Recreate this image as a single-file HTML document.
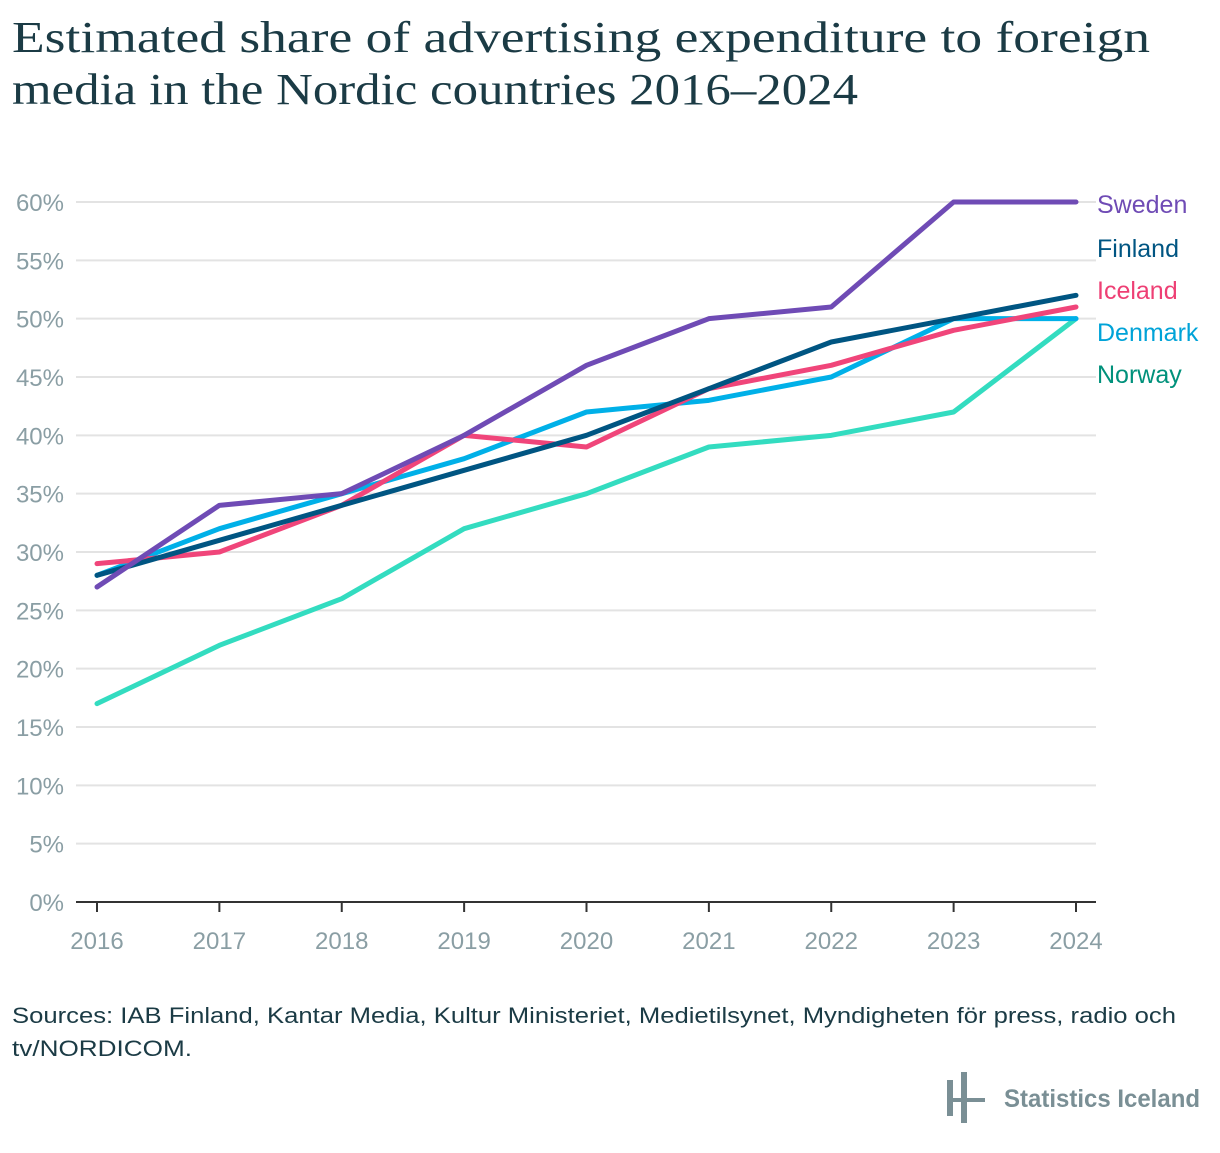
<!DOCTYPE html>
<html><head><meta charset="utf-8"><style>
body{margin:0;background:#fff;width:1220px;height:1148px;overflow:hidden;font-family:"Liberation Sans",sans-serif}
</style></head><body>
<svg id="chart" width="1220" height="1148" xmlns="http://www.w3.org/2000/svg">
<text font-family="Liberation Serif, serif" font-size="44" fill="#1b3b45"><tspan x="12" y="52" textLength="1138" lengthAdjust="spacingAndGlyphs">Estimated share of advertising expenditure to foreign</tspan><tspan x="12" y="104" textLength="846" lengthAdjust="spacingAndGlyphs">media in the Nordic countries 2016–2024</tspan></text>
<g id="grid"></g><g id="lines"></g><g id="labels"></g>
<text font-size="22" fill="#1b3b45"><tspan x="12" y="1023" textLength="1164" lengthAdjust="spacingAndGlyphs">Sources: IAB Finland, Kantar Media, Kultur Ministeriet, Medietilsynet, Myndigheten för press, radio och</tspan><tspan x="12" y="1056" textLength="180" lengthAdjust="spacingAndGlyphs">tv/NORDICOM.</tspan></text>
<g fill="#7a8f95">
<rect x="947" y="1080" width="6" height="36"/><rect x="961" y="1072" width="6" height="51"/><rect x="947" y="1098" width="38" height="4"/>
<text x="1004" y="1107" font-size="25" font-weight="bold" fill="#7a8f95" textLength="196" lengthAdjust="spacingAndGlyphs">Statistics Iceland</text>
</g>
</svg>
<script>
const years=[2016,2017,2018,2019,2020,2021,2022,2023,2024];
const yTicks=[0,5,10,15,20,25,30,35,40,45,50,55,60];
const sweden=[27,34,35,40,46,50,51,60,60];
const finland=[28,31,34,37,40,44,48,50,52];
const iceland=[29,30,34,40,39,44,46,49,51];
const denmark=[28,32,35,38,42,43,45,50,50];
const norway=[17,22,26,32,35,39,40,42,50];
const ns="http://www.w3.org/2000/svg";
const x=i=>97+i*(1076-97)/(years.length-1);
const y=v=>902-v*(700/60);
function mk(t,a,p){const e=document.createElementNS(ns,t);for(const k in a)e.setAttribute(k,a[k]);p.appendChild(e);return e;}
const grid=document.getElementById('grid');
yTicks.forEach(v=>{
 const l=mk('line',{x1:76,x2:1096,y1:y(v),y2:y(v),stroke:v===0?'#333':'#e3e3e3','stroke-width':2},grid);
 
 
 const t=mk('text',{x:64,y:y(v)+9,'text-anchor':'end','font-size':24,fill:'#8a9ea4'},grid);
 t.textContent=v+'%';
 
 
});
years.forEach((yr,i)=>{
 const tk=mk('line',{x1:x(i),x2:x(i),y1:902,y2:912,stroke:'#333','stroke-width':2},grid);
 
 
 const t=mk('text',{x:x(i),y:949,'text-anchor':'middle','font-size':24,fill:'#8a9ea4'},grid);
 t.textContent=yr;
 
 
});
const series=[["Norway",norway,"#33dcc0","#00917b",375],["Denmark",denmark,"#00b0e8","#00a3d8",333],["Iceland",iceland,"#f0457a","#ee3f74",291],["Finland",finland,"#005582","#005582",249],["Sweden",sweden,"#6f4bb5","#6f4bb5",205]];
const lines=document.getElementById('lines'),labels=document.getElementById('labels');
series.forEach(([name,vals,c,lc,ly])=>{
 const p=mk('polyline',{points:vals.map((v,i)=>x(i)+','+y(v)).join(' '),fill:'none',stroke:c,'stroke-width':5,'stroke-linejoin':'round','stroke-linecap':'round'},lines);
 
 
 const t=mk('text',{x:1097,y:ly+8,'font-size':25,fill:lc},labels);
 t.textContent=name;
 
 
});
</script>
</body></html>
